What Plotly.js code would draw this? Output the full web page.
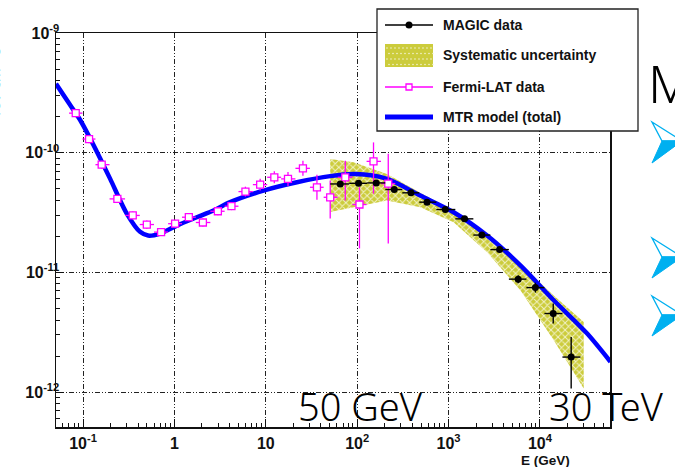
<!DOCTYPE html>
<html><head><meta charset="utf-8">
<script src="https://cdn.plot.ly/plotly-3.0.1.min.js"></script>
<style>html,body{margin:0;padding:0;background:#fff;}#chart{width:675px;height:467px;}</style>
</head><body><div id="chart"></div>
<script>
// ---------- DATA ----------
// MTR model (total)
const modelE = [0.0506,0.0720,0.0927,0.1297,0.1976,0.3011,0.4209,0.5150,0.6973,1.062,1.759,2.674,4.074,9.437,21.9,50.7,95.3,212,491,1137,2641,6115,14160,32890,59180];
const modelF = [3.76e-10,2.51e-10,1.884e-10,1.166e-10,6.07e-11,3.10e-11,2.18e-11,2.03e-11,2.11e-11,2.46e-11,2.89e-11,3.29e-11,3.86e-11,4.82e-11,5.66e-11,6.37e-11,6.62e-11,6.04e-11,4.38e-11,3.18e-11,2.03e-11,1.144e-11,5.85e-12,3.08e-12,1.79e-12];

// Systematic uncertainty band
const bandE  = [50.7, 91.3, 212, 491, 1137, 2641, 6115, 14160, 30170];
const bandHi = [8.86e-11, 8.30e-11, 6.64e-11, 4.60e-11, 3.22e-11, 2.00e-11, 1.17e-11, 6.40e-12, 3.85e-12];
const bandLo = [3.20e-11, 3.50e-11, 3.98e-11, 3.50e-11, 2.62e-11, 1.476e-11, 7.08e-12, 2.71e-12, 1.07e-12];

// Fermi-LAT data
const fermiE  = [0.0832,0.1164,0.160,0.2375,0.350,0.499,0.715,1.018,1.438,2.05,2.99,4.21,5.99,8.68,12.4,17.5,25.5,36.3,50.7,74.1,106,151,219];
const fermiF  = [2.14e-10,1.30e-10,7.94e-11,4.11e-11,2.99e-11,2.51e-11,2.17e-11,2.55e-11,2.89e-11,2.61e-11,3.24e-11,3.57e-11,4.73e-11,5.41e-11,6.23e-11,6.04e-11,7.40e-11,5.14e-11,4.24e-11,6.23e-11,3.69e-11,8.46e-11,5.52e-11];
const fermiFlo = [1.98e-10,1.20e-10,7.35e-11,3.81e-11,2.77e-11,2.32e-11,2.01e-11,2.36e-11,2.68e-11,2.42e-11,3.00e-11,3.31e-11,4.30e-11,4.82e-11,5.55e-11,5.28e-11,6.41e-11,4.04e-11,2.82e-11,3.98e-11,1.585e-11,4.55e-11,1.745e-11];
const fermiFhi = [2.31e-10,1.40e-10,8.58e-11,4.44e-11,3.23e-11,2.71e-11,2.34e-11,2.75e-11,3.12e-11,2.82e-11,3.50e-11,3.86e-11,5.20e-11,6.07e-11,6.99e-11,6.91e-11,8.55e-11,6.53e-11,5.85e-11,8.58e-11,5.14e-11,1.219e-10,9.81e-11];
const fermiEdges = [0.0703,0.0985,0.1367,0.1951,0.2884,0.4178,0.5977,0.8531,1.211,1.715,2.473,3.546,5.023,7.223,10.36,14.72,21.10,30.41,42.97,61.32,88.8,126.8,182.3,261.5];

// MAGIC data
const magicE  = [65.3,103.5,161.8,254.8,388,582,923,1497,2317,3622,5786,8925,13990,21990];
const magicF  = [5.48e-11,5.55e-11,5.59e-11,4.92e-11,4.62e-11,3.86e-11,3.35e-11,2.80e-11,2.05e-11,1.55e-11,8.78e-12,7.46e-12,4.53e-12,1.96e-12];
const magicFlo = [5.27e-11,5.34e-11,5.38e-11,4.73e-11,4.45e-11,3.71e-11,3.22e-11,2.69e-11,1.97e-11,1.46e-11,8.13e-12,6.78e-12,3.74e-12,1.07e-12];
const magicFhi = [5.70e-11,5.77e-11,5.81e-11,5.11e-11,4.80e-11,4.01e-11,3.48e-11,2.91e-11,2.13e-11,1.64e-11,9.48e-12,8.21e-12,5.49e-12,2.88e-12];
const magicEdges = [50.7,81.9,129.0,203.2,311.9,478.8,735.0,1187,1869,2869,4576,7116,11200,17640,27770];

// Axis ticks
const xTickVals = [0.1,1,10,100,1000,10000];
const xTickText = ['10<sup>-1</sup>','1','10','10<sup>2</sup>','10<sup>3</sup>','10<sup>4</sup>'];
const yTickVals = [1e-12,1e-11,1e-10,1e-9];
const yTickText = ['10<sup>-12</sup>','10<sup>-11</sup>','10<sup>-10</sup>','10<sup>-9</sup>'];

// Legend labels
const legendLabels = ['MAGIC data','Systematic uncertainty','Fermi-LAT data','MTR model (total)'];

// ---------- helpers (layout geometry only) ----------
const L=56, R=610, T=33, B=427;
const px = v => (v-L)/(R-L);
const py = v => (B-v)/(B-T);

const minorX = [], minorY = [];
for (let d=-2; d<=5; d++) for (let k=2;k<=9;k++) minorX.push(k*Math.pow(10,d));
for (let d=-13; d<=-9; d++) for (let k=2;k<=9;k++) minorY.push(k*Math.pow(10,d));

const bandColor = '#cccc3c';
const traces = [
  { // band polygon
    x: bandE.concat(bandE.slice().reverse()),
    y: bandHi.concat(bandLo.slice().reverse()),
    type:'scatter', mode:'lines', fill:'toself',
    fillcolor: bandColor,
    fillpattern:{shape:'x', fgcolor:'#f2f2c8', bgcolor:bandColor, size:5, solidity:0.35},
    line:{width:0, color:bandColor}, hoverinfo:'skip', showlegend:false
  },
  { // model
    x: modelE, y: modelF, type:'scatter', mode:'lines',
    line:{color:'#0000ff', width:4.5, shape:'spline', smoothing:0.8}, showlegend:false
  },
  { // Fermi
    x: fermiE, y: fermiF, type:'scatter', mode:'markers',
    marker:{symbol:'square', size:7, color:'#ffffff', line:{color:'#ff00ff', width:1.3}},
    error_x:{type:'data', symmetric:false,
      array: fermiE.map((e,i)=>fermiEdges[i+1]-e),
      arrayminus: fermiE.map((e,i)=>e-fermiEdges[i]),
      color:'#ff00ff', thickness:1.3, width:0},
    error_y:{type:'data', symmetric:false,
      array: fermiF.map((f,i)=>fermiFhi[i]-f),
      arrayminus: fermiF.map((f,i)=>f-fermiFlo[i]),
      color:'#ff00ff', thickness:1.3, width:0},
    showlegend:false
  },
  { // MAGIC
    x: magicE, y: magicF, type:'scatter', mode:'markers',
    marker:{symbol:'circle', size:7, color:'#000000'},
    error_x:{type:'data', symmetric:false,
      array: magicE.map((e,i)=>magicEdges[i+1]-e),
      arrayminus: magicE.map((e,i)=>e-magicEdges[i]),
      color:'#000000', thickness:1.4, width:0},
    error_y:{type:'data', symmetric:false,
      array: magicF.map((f,i)=>magicFhi[i]-f),
      arrayminus: magicF.map((f,i)=>f-magicFlo[i]),
      color:'#000000', thickness:1.4, width:0},
    showlegend:false
  }
];

const gridDash = '5px,2px,1px,2px,1px,2px';
const axisFont = {family:'Liberation Sans, Arial, sans-serif', size:16, color:'#111', weight:'bold'};

const shapes = [];
// Legend box
shapes.push({type:'rect', xref:'paper', yref:'paper', x0:px(377), x1:px(638), y0:py(131), y1:py(9),
  fillcolor:'#ffffff', line:{color:'#222', width:1.3}, layer:'above'});
// MAGIC symbol
shapes.push({type:'line', xref:'paper', yref:'paper', x0:px(385), x1:px(433), y0:py(25), y1:py(25), line:{color:'#000', width:1.5}});
shapes.push({type:'circle', xref:'paper', yref:'paper', x0:px(405.5), x1:px(412.5), y0:py(28.5), y1:py(21.5), fillcolor:'#000', line:{width:0}});
// Band swatch
shapes.push({type:'rect', xref:'paper', yref:'paper', x0:px(385), x1:px(433), y0:py(67), y1:py(44), fillcolor:bandColor, line:{width:0}});
for (let r=0; r<4; r++) for (let c=0; c<12; c++) {
  const cx = 387 + c*4 + (r%2)*2, cy = 48 + r*5.5;
  shapes.push({type:'circle', xref:'paper', yref:'paper', x0:px(cx-0.8), x1:px(cx+0.8), y0:py(cy+0.8), y1:py(cy-0.8), fillcolor:'#f4f4d8', line:{width:0}});
}
// Fermi symbol
shapes.push({type:'line', xref:'paper', yref:'paper', x0:px(385), x1:px(433), y0:py(87), y1:py(87), line:{color:'#ff00ff', width:1.3}});
shapes.push({type:'rect', xref:'paper', yref:'paper', x0:px(406), x1:px(412), y0:py(90), y1:py(84), fillcolor:'#ffffff', line:{color:'#ff00ff', width:1.3}});
// MTR symbol
shapes.push({type:'line', xref:'paper', yref:'paper', x0:px(385), x1:px(433), y0:py(117), y1:py(117), line:{color:'#0000ff', width:5}});

// Slide bullet arrows (right side)
const arrowRows = [[122,141,163],[238,257,278],[296,315,336]];
arrowRows.forEach(([t,m,b])=>{
  const p = (x,y)=> px(x)+','+py(y);
  shapes.push({type:'path', xref:'paper', yref:'paper',
    path:'M'+p(652,t)+' L'+p(682,m)+' L'+p(662,m)+' Z',
    fillcolor:'#ffffff', line:{color:'#00b0f0', width:1.3}});
  shapes.push({type:'path', xref:'paper', yref:'paper',
    path:'M'+p(662,m)+' L'+p(682,m)+' L'+p(652,b)+' Z',
    fillcolor:'#00b0f0', line:{color:'#00b0f0', width:1}});
});

const legFont = {family:'Liberation Sans, Arial, sans-serif', size:14, color:'#111', weight:'bold'};
const annotations = [];
[25,55,87,117].forEach((y,i)=>{
  annotations.push({xref:'paper', yref:'paper', x:px(441), y:py(y), xanchor:'left', yanchor:'middle',
    text:legendLabels[i], showarrow:false, font:legFont});
});
annotations.push({xref:'paper', yref:'paper', x:px(545), y:py(460), xanchor:'center', yanchor:'middle',
  text:'E (GeV)', showarrow:false, font:{family:'Liberation Sans, Arial, sans-serif', size:13.5, color:'#111', weight:'bold'}});
// clipped y-axis title of the slide
annotations.push({xref:'paper', yref:'paper', x:px(-6), y:py(78), xanchor:'center', yanchor:'middle', textangle:-90,
  text:'TeV cm<sup>-2</sup> s<sup>-1</sup>', showarrow:false, font:{family:'Noto Sans, sans-serif', size:15, color:'#2a8fd6'}});
// slide overlay texts
const slideFont = {family:'Noto Sans, sans-serif', size:38, color:'#000', weight:300};
annotations.push({xref:'paper', yref:'paper', x:px(296), y:py(406), xanchor:'left', yanchor:'middle',
  text:'50 GeV', showarrow:false, font:slideFont});
annotations.push({xref:'paper', yref:'paper', x:px(547), y:py(406), xanchor:'left', yanchor:'middle',
  text:'30 TeV', showarrow:false, font:slideFont});
annotations.push({xref:'paper', yref:'paper', x:px(646), y:py(82), xanchor:'left', yanchor:'middle',
  text:'M', showarrow:false, font:{family:'Noto Sans, sans-serif', size:52, color:'#000', weight:300}});

const layout = {
  width:675, height:467,
  margin:{l:L, r:675-R, t:T, b:467-B},
  paper_bgcolor:'#ffffff', plot_bgcolor:'#ffffff',
  showlegend:false,
  xaxis:{type:'log', range:[Math.log10(0.0506), Math.log10(58500)],
    tickmode:'array', tickvals:xTickVals, ticktext:xTickText,
    ticks:'inside', ticklen:8, tickwidth:1, tickcolor:'#111', ticklabelstandoff:1,
    minor:{tickmode:'array', tickvals:minorX, ticks:'inside', ticklen:4, tickwidth:1, tickcolor:'#111', showgrid:false},
    showgrid:true, gridcolor:'#222', gridwidth:1, griddash:gridDash,
    showline:true, linecolor:'#111', linewidth:1.5, mirror:true, zeroline:false,
    tickfont:axisFont},
  yaxis:{type:'log', range:[-12.292, -9],
    tickmode:'array', tickvals:yTickVals, ticktext:yTickText,
    ticks:'inside', ticklen:8, tickwidth:1, tickcolor:'#111', ticklabelstandoff:-8,
    minor:{tickmode:'array', tickvals:minorY, ticks:'inside', ticklen:4, tickwidth:1, tickcolor:'#111', showgrid:false},
    showgrid:true, gridcolor:'#222', gridwidth:1, griddash:gridDash,
    showline:true, linecolor:'#111', linewidth:1.5, mirror:true, zeroline:false,
    tickfont:axisFont},
  shapes:shapes, annotations:annotations
};
Plotly.newPlot('chart', traces, layout, {staticPlot:true, displayModeBar:false});
</script></body></html>
